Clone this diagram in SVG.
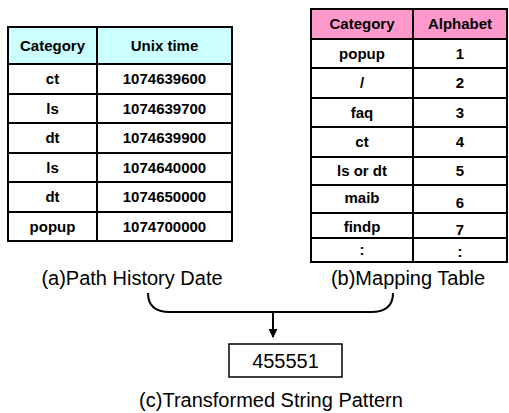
<svg xmlns="http://www.w3.org/2000/svg" width="509" height="413" viewBox="0 0 509 413">
<defs>
<style>
.t{font-family:"Liberation Sans",Arial,sans-serif;font-weight:bold;font-size:15px;fill:#000;text-anchor:middle}
.cap{font-family:"Liberation Sans",Arial,sans-serif;font-size:20px;fill:#000;text-anchor:middle}
.grid{stroke:#000;stroke-width:2;fill:none}
.conn{stroke:#000;stroke-width:2;fill:none}
</style>
<marker id="arr" viewBox="0 0 10 10" refX="9" refY="5" markerWidth="4.5" markerHeight="4.5" orient="auto" markerUnits="strokeWidth">
<path d="M0,0 L10,5 L0,10 z" fill="#000"/>
</marker>
</defs>
<rect width="509" height="413" fill="#fff"/>

<g id="table-a">
<rect x="8" y="27" width="224" height="37" fill="#ccffff"/>
<rect x="8" y="64" width="224" height="177" fill="#fff"/>
<rect class="grid" x="8" y="27" width="224" height="214"/>
<path class="grid" d="M97,27 V241 M8,64 H232 M8,94 H232 M8,123 H232 M8,153 H232 M8,182 H232 M8,212 H232"/>
<text class="t" x="52.5" y="51">Category</text>
<text class="t" x="164.5" y="51">Unix time</text>
<text class="t" x="52.5" y="84">ct</text><text class="t" x="164.5" y="84">1074639600</text>
<text class="t" x="52.5" y="114">ls</text><text class="t" x="164.5" y="114">1074639700</text>
<text class="t" x="52.5" y="143">dt</text><text class="t" x="164.5" y="143">1074639900</text>
<text class="t" x="52.5" y="173">ls</text><text class="t" x="164.5" y="173">1074640000</text>
<text class="t" x="52.5" y="202">dt</text><text class="t" x="164.5" y="202">1074650000</text>
<text class="t" x="52.5" y="232">popup</text><text class="t" x="164.5" y="232">1074700000</text>
<text class="cap" x="132" y="285">(a)Path History Date</text>
</g>

<g id="table-b">
<rect x="311" y="9" width="196" height="30" fill="#ff99cc"/>
<rect x="311" y="39" width="196" height="223" fill="#fff"/>
<rect class="grid" x="311" y="9" width="196" height="253"/>
<path class="grid" d="M413,9 V262 M311,39 H507 M311,68 H507 M311,98 H507 M311,127 H507 M311,157 H507 M311,185 H507 M311,213 H507 M311,238 H507"/>
<text class="t" x="362" y="29">Category</text>
<text class="t" x="460" y="29">Alphabet</text>
<text class="t" x="362" y="59">popup</text><text class="t" x="460" y="59">1</text>
<text class="t" x="362" y="88">/</text><text class="t" x="460" y="88">2</text>
<text class="t" x="362" y="118">faq</text><text class="t" x="460" y="118">3</text>
<text class="t" x="362" y="147">ct</text><text class="t" x="460" y="147">4</text>
<text class="t" x="362" y="176">ls or dt</text><text class="t" x="460" y="176">5</text>
<text class="t" x="362" y="203">maib</text><text class="t" x="460" y="208">6</text>
<text class="t" x="362" y="232">findp</text><text class="t" x="460" y="235">7</text>
<text class="t" x="362" y="255">:</text><text class="t" x="460" y="257">:</text>
<text class="cap" x="408" y="285">(b)Mapping Table</text>
</g>

<g id="connectors">
<path class="conn" d="M148,293 C148,306 156,312 170,312 L371,312 C385,312 393,306 393,293"/>
<line class="conn" x1="273" y1="312" x2="273" y2="337" marker-end="url(#arr)"/>
</g>

<g id="result">
<rect x="229" y="344" width="113" height="33" fill="#fff" stroke="#000" stroke-width="1.5"/>
<text class="cap" x="285.5" y="368">455551</text>
<text class="cap" x="271" y="407">(c)Transformed String Pattern</text>
</g>
</svg>
